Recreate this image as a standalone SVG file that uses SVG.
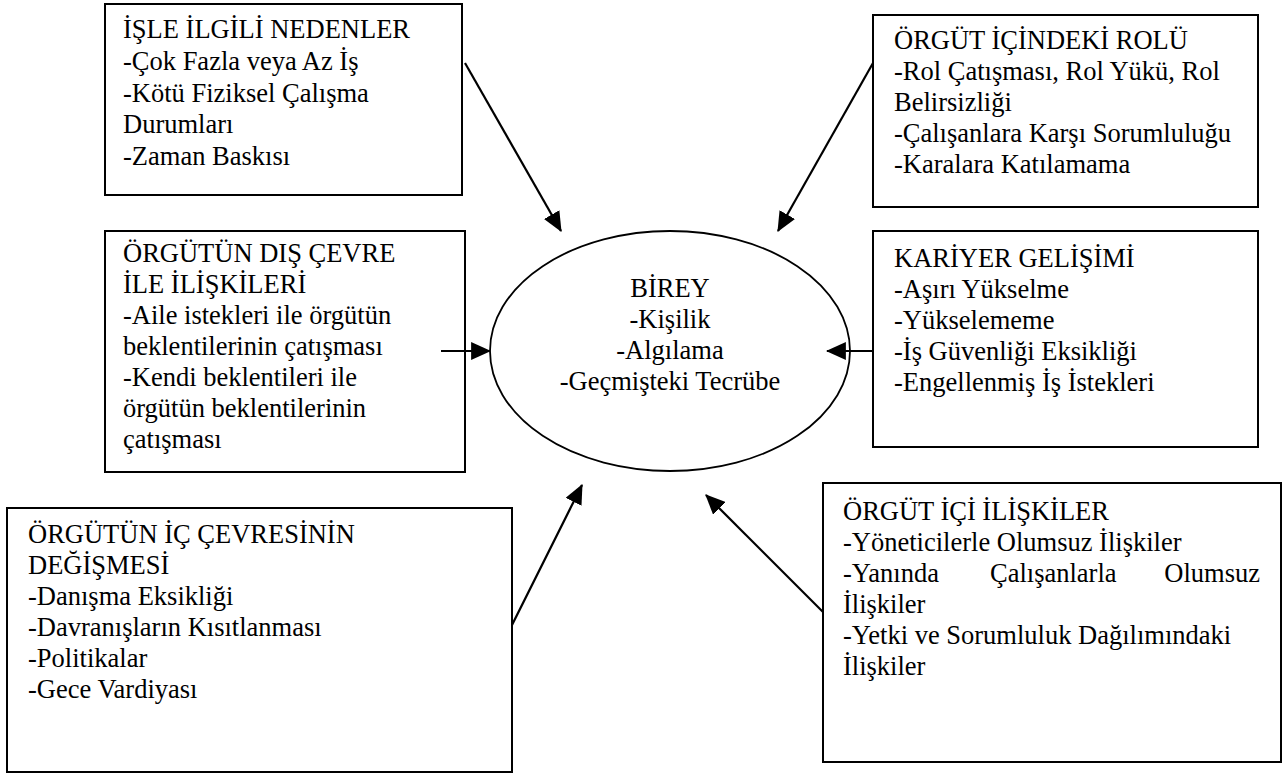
<svg xmlns="http://www.w3.org/2000/svg" width="1287" height="774" viewBox="0 0 1287 774">
<style>
.box{fill:#fff;stroke:#000;stroke-width:2}
.t{font-family:"Liberation Serif","Times New Roman",serif;font-size:26.5px;fill:#000}
.m{text-anchor:middle}
.c{stroke:#000;stroke-width:2.2;fill:none}
</style>
<defs>
<marker id="ah" markerUnits="userSpaceOnUse" markerWidth="20" markerHeight="18" viewBox="0 0 18 16" refX="17" refY="8" orient="auto">
<path d="M0,0 L18,8 L0,16 Z" fill="#000"/>
</marker>
</defs>
<rect width="1287" height="774" fill="#fff"/>
<g id="node-isle">
<rect class="box" x="105" y="4" width="357" height="191"/>
<text class="t" x="123" y="38">İŞLE İLGİLİ NEDENLER</text>
<text class="t" x="123" y="70">-Çok Fazla veya Az İş</text>
<text class="t" x="123" y="101.5">-Kötü Fiziksel Çalışma</text>
<text class="t" x="123" y="133">Durumları</text>
<text class="t" x="123" y="165">-Zaman Baskısı</text>
</g>
<g id="node-rol">
<rect class="box" x="873" y="15" width="385" height="192"/>
<text class="t" x="894" y="49">ÖRGÜT İÇİNDEKİ ROLÜ</text>
<text class="t" x="894" y="80">-Rol Çatışması, Rol Yükü, Rol</text>
<text class="t" x="894" y="111">Belirsizliği</text>
<text class="t" x="894" y="142">-Çalışanlara Karşı Sorumluluğu</text>
<text class="t" x="894" y="173">-Karalara Katılamama</text>
</g>
<g id="node-dis">
<rect class="box" x="105" y="231" width="360" height="241"/>
<text class="t" x="123" y="261.5">ÖRGÜTÜN DIŞ ÇEVRE</text>
<text class="t" x="123" y="292.5">İLE İLİŞKİLERİ</text>
<text class="t" x="123" y="323.5">-Aile istekleri ile örgütün</text>
<text class="t" x="123" y="354.5">beklentilerinin çatışması</text>
<text class="t" x="123" y="385.5">-Kendi beklentileri ile</text>
<text class="t" x="123" y="416.5">örgütün beklentilerinin</text>
<text class="t" x="123" y="447.5">çatışması</text>
</g>
<g id="node-kariyer">
<rect class="box" x="873" y="231" width="385" height="216"/>
<text class="t" x="894" y="266.5">KARİYER GELİŞİMİ</text>
<text class="t" x="894" y="297.5">-Aşırı Yükselme</text>
<text class="t" x="894" y="328.5">-Yükselememe</text>
<text class="t" x="894" y="359.5">-İş Güvenliği Eksikliği</text>
<text class="t" x="894" y="390.5">-Engellenmiş İş İstekleri</text>
</g>
<g id="node-ic">
<rect class="box" x="7" y="508" width="505" height="264"/>
<text class="t" x="28" y="543">ÖRGÜTÜN İÇ ÇEVRESİNİN</text>
<text class="t" x="28" y="574">DEĞİŞMESİ</text>
<text class="t" x="28" y="605">-Danışma Eksikliği</text>
<text class="t" x="28" y="636">-Davranışların Kısıtlanması</text>
<text class="t" x="28" y="667">-Politikalar</text>
<text class="t" x="28" y="698">-Gece Vardiyası</text>
</g>
<g id="node-iliski">
<rect class="box" x="823" y="483" width="458" height="279"/>
<text class="t" x="843" y="520">ÖRGÜT İÇİ İLİŞKİLER</text>
<text class="t" x="843" y="551">-Yöneticilerle Olumsuz İlişkiler</text>
<text class="t" y="582"><tspan x="843">-Yanında</tspan><tspan x="990">Çalışanlarla</tspan></text>
<text class="t" x="1260" y="582" text-anchor="end">Olumsuz</text>
<text class="t" x="843" y="613">İlişkiler</text>
<text class="t" x="843" y="644">-Yetki ve Sorumluluk Dağılımındaki</text>
<text class="t" x="843" y="675">İlişkiler</text>
</g>
<g id="node-birey">
<ellipse cx="670" cy="351" rx="180" ry="120" fill="#fff" stroke="#000" stroke-width="1.8"/>
<text class="t m" x="670" y="297">BİREY</text>
<text class="t m" x="670" y="328">-Kişilik</text>
<text class="t m" x="670" y="359">-Algılama</text>
<text class="t m" x="670" y="390">-Geçmişteki Tecrübe</text>
</g>
<g id="connectors">
<line class="c" x1="465" y1="63" x2="561" y2="231" marker-end="url(#ah)"/>
<line class="c" x1="873" y1="63" x2="778" y2="231" marker-end="url(#ah)"/>
<line class="c" x1="441" y1="351" x2="490" y2="351" marker-end="url(#ah)"/>
<line class="c" x1="873" y1="351" x2="827" y2="351" marker-end="url(#ah)"/>
<line class="c" x1="512" y1="625" x2="582" y2="485" marker-end="url(#ah)"/>
<line class="c" x1="823" y1="612" x2="706" y2="495" marker-end="url(#ah)"/>
</g>
</svg>
